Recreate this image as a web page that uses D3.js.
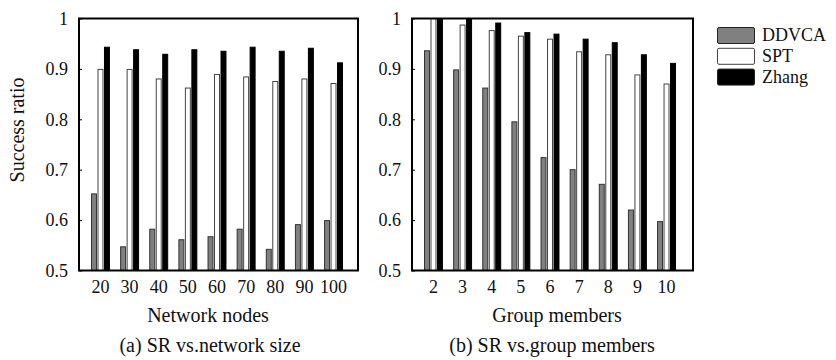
<!DOCTYPE html>
<html><head><meta charset="utf-8">
<script src="https://cdn.jsdelivr.net/npm/d3@7"></script>
<style>
body{margin:0;background:#fff;}
svg text{font-family:"Liberation Serif",serif !important;fill:#111;}
</style></head>
<body><svg id="c" width="836" height="360"></svg>
<script>
const series = ["DDVCA","SPT","Zhang"];
const nodesCats = ["20","30","40","50","60","70","80","90","100"];
const nodesDDVCA = [0.652,0.547,0.582,0.561,0.567,0.582,0.542,0.591,0.599];
const nodesSPT   = [0.899,0.899,0.880,0.862,0.889,0.884,0.875,0.880,0.871];
const nodesZhang = [0.943,0.938,0.929,0.938,0.935,0.943,0.935,0.941,0.912];
const memberCats = ["2","3","4","5","6","7","8","9","10"];
const memberDDVCA = [0.936,0.898,0.862,0.795,0.724,0.700,0.671,0.620,0.597];
const memberSPT   = [1.000,0.987,0.976,0.965,0.959,0.934,0.928,0.888,0.870];
const memberZhang = [1.000,1.000,0.991,0.972,0.969,0.959,0.952,0.928,0.911];
const yTicks = [0.5,0.6,0.7,0.8,0.9,1];
const yTickLabels = ["0.5","0.6","0.7","0.8","0.9","1"];

const fills = {DDVCA:"#808080", SPT:"#ffffff", Zhang:"#000000"};
const strokes = {DDVCA:"#333", SPT:"#444", Zhang:"#000"};

const svg = d3.select("#c");
const yTop = 18.5, yBottom = 270.5;
const y = d3.scaleLinear().domain([0.5,1]).range([yBottom, yTop]);

function panel(x0, x1, cats, vals, xTitle, caption, bandRange, titleX, capX){
  const g = svg.append("g");
  const x = d3.scaleBand().domain(cats).range(bandRange).paddingInner(0.35).paddingOuter(0);
  const xs = d3.scaleBand().domain(series).range([0, x.bandwidth()]).paddingInner(0.08);
  const data = [];
  cats.forEach((c,i)=>series.forEach((s,j)=>data.push({c, s, v: vals[j][i]})));
  g.selectAll("rect.bar").data(data).join("rect").attr("class","bar")
    .attr("x", d=>x(d.c)+xs(d.s)+0.5)
    .attr("y", d=>y(d.v))
    .attr("width", xs.bandwidth()-1)
    .attr("height", d=>yBottom-y(d.v))
    .attr("fill", d=>fills[d.s]).attr("stroke", d=>strokes[d.s]).attr("stroke-width",1);
  g.append("rect").attr("x",x0).attr("y",yTop).attr("width",x1-x0).attr("height",yBottom-yTop)
    .attr("fill","none").attr("stroke","#000").attr("stroke-width",2);
  const ya = d3.axisLeft(y).tickValues(yTicks).tickSize(-3).tickPadding(11)
    .tickFormat((d,i)=>yTickLabels[i]);
  const ag = g.append("g").attr("transform",`translate(${x0},0)`).call(ya);
  ag.select(".domain").remove();
  ag.selectAll("line").attr("stroke","#000");
  ag.selectAll("text").attr("font-size",18).attr("fill","#111");
  const xa = d3.axisBottom(x).tickSize(0).tickPadding(10);
  const bg = g.append("g").attr("transform",`translate(0,${yBottom})`).call(xa);
  bg.select(".domain").remove();
  bg.selectAll("text").attr("font-size",18).attr("fill","#111");
  g.append("text").attr("x",titleX).attr("y",322).attr("text-anchor","middle").attr("font-size",20).text(xTitle);
  g.append("text").attr("x",capX).attr("y",352).attr("text-anchor","middle").attr("font-size",20).text(caption);
}

panel(79, 358, nodesCats, [nodesDDVCA,nodesSPT,nodesZhang], "Network nodes", "(a) SR vs.network size", [91,343], 208, 210);
panel(412, 693, memberCats, [memberDDVCA,memberSPT,memberZhang], "Group members", "(b) SR vs.group members", [424,676], 557, 552);

svg.append("text").attr("transform","translate(24,130) rotate(-90)").attr("text-anchor","middle")
  .attr("font-size",20).text("Success ratio");

const lg = svg.append("g").attr("transform","translate(717,27)");
series.forEach((s,i)=>{
  lg.append("rect").attr("x",0.5).attr("y",i*20.8+0.5).attr("width",37).attr("height",16).attr("rx",1.5)
    .attr("fill",fills[s]).attr("stroke", s==="SPT"?"#444":"#222").attr("stroke-width",1);
  lg.append("text").attr("x",45).attr("y",i*20.8+14).attr("font-size",18).text(s);
});
</script></body></html>
